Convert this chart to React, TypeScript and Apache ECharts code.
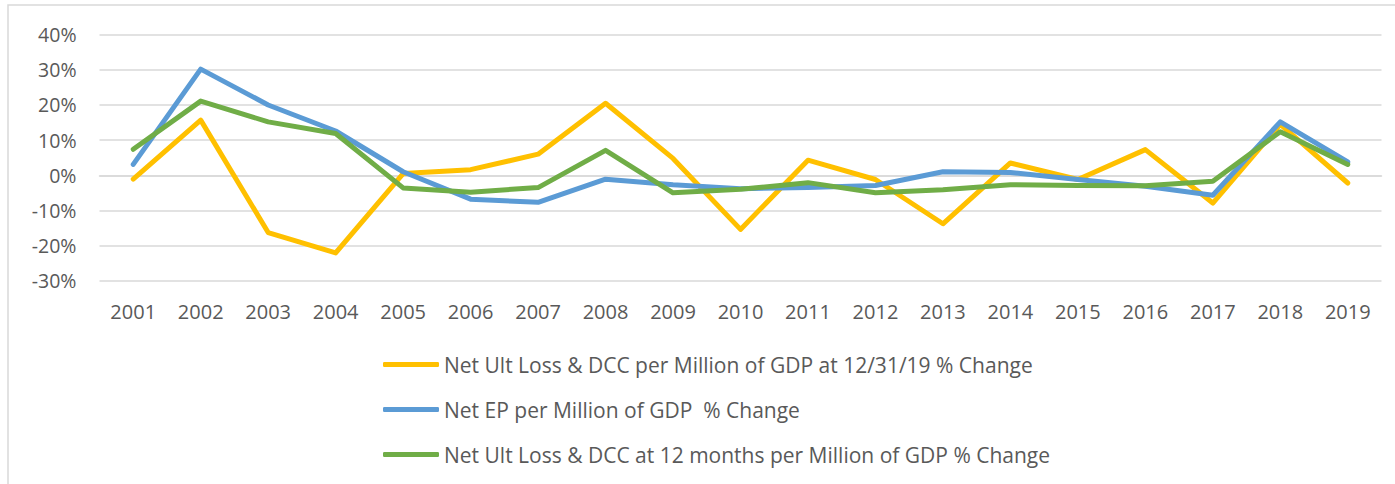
import React, { useEffect, useRef } from "react";
import * as echarts from "echarts";

const years = ["2001","2002","2003","2004","2005","2006","2007","2008","2009","2010","2011","2012","2013","2014","2015","2016","2017","2018","2019"];
const netUltLoss1231 = [-1.1, 15.7, -16.3, -22.1, 0.5, 1.6, 6.0, 20.5, 4.8, -15.4, 4.3, -1.2, -13.8, 3.5, -1.2, 7.3, -7.9, 14.5, -2.2];
const netEP = [3.1, 30.2, 20.0, 12.6, 1.0, -6.8, -7.7, -1.1, -2.7, -3.8, -3.5, -2.9, 1.0, 0.8, -1.2, -3.1, -5.7, 15.2, 3.8];
const netUltLoss12m = [7.4, 21.1, 15.2, 11.9, -3.6, -4.8, -3.5, 7.1, -5.0, -4.0, -2.1, -5.0, -4.1, -2.7, -2.9, -3.0, -1.7, 12.4, 3.1];
const seriesNames = [
  "Net Ult Loss & DCC per Million of GDP at 12/31/19 % Change",
  "Net EP per Million of GDP  % Change",
  "Net Ult Loss & DCC at 12 months per Million of GDP % Change",
];
const colors = ["#FFC000", "#5B9BD5", "#70AD47"];

export default function App() {
  const ref = useRef<HTMLDivElement>(null);
  useEffect(() => {
    document.body.style.margin = "0";
    const chart = echarts.init(ref.current!, null, { renderer: "svg" });
    const font = "Open Sans";
    const data = [netUltLoss1231, netEP, netUltLoss12m];
    chart.setOption({
      animation: false,
      backgroundColor: "#ffffff",
      textStyle: { fontFamily: font },
      graphic: [
        {
          type: "rect",
          shape: { x: 8, y: 5, width: 1420, height: 520 },
          style: { fill: "none", stroke: "#d9d9d9", lineWidth: 1.5 },
          silent: true,
          z: -1,
        },
      ],
      grid: { left: 99.5, right: 13.5, top: 34.7, height: 246 },
      xAxis: {
        type: "category",
        data: years,
        boundaryGap: true,
        axisLine: { show: true, lineStyle: { color: "#d9d9d9", width: 1.5 } },
        axisTick: { show: false },
        axisLabel: { color: "#595959", fontSize: 20, fontFamily: font, margin: 21 },
      },
      yAxis: {
        type: "value",
        min: -30,
        max: 40,
        interval: 10,
        axisLine: { show: false },
        axisTick: { show: false },
        splitLine: { lineStyle: { color: "#d9d9d9", width: 1.5 } },
        axisLabel: { color: "#595959", fontSize: 19.5, fontFamily: font, margin: 23, formatter: (v: number) => v + "%" },
      },
      legend: {
        orient: "vertical",
        left: 378,
        top: 348,
        itemWidth: 56,
        itemHeight: 5,
        itemGap: 22,
        icon: "roundRect",
        textStyle: { color: "#595959", fontSize: 21, fontFamily: font, lineHeight: 23 },
        data: seriesNames,
      },
      series: seriesNames.map((name, i) => ({
        name,
        type: "line",
        data: data[i],
        showSymbol: false,
        symbol: "none",
        lineStyle: { color: colors[i], width: 5, join: "round", cap: "round" },
        itemStyle: { color: colors[i] },
        z: 2 + i,
      })),
    });
    return () => chart.dispose();
  }, []);
  return <div ref={ref} style={{ width: 1395, height: 484 }} />;
}
